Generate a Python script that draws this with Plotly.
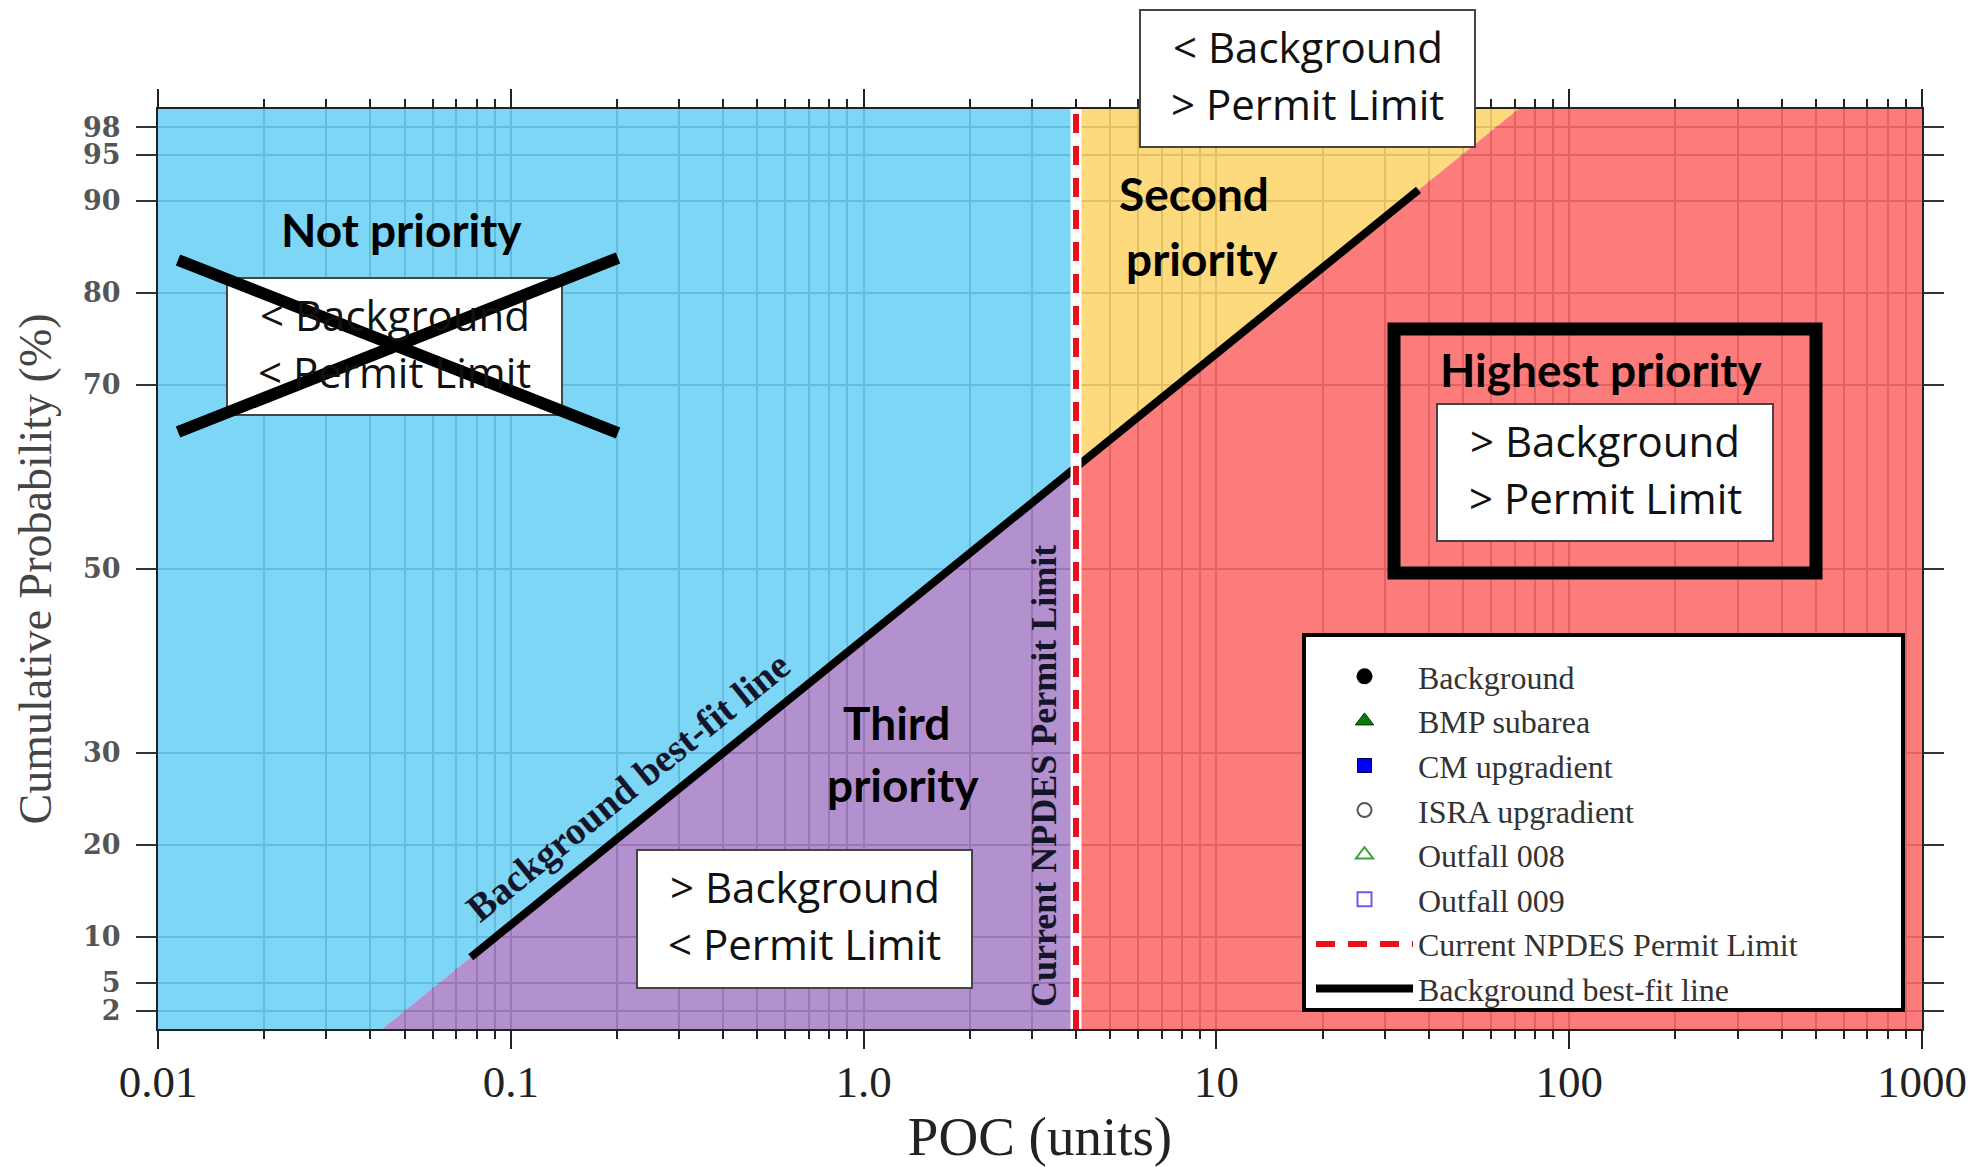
import math
import plotly.graph_objects as go

# ---------------- data ----------------
x_lo, x_hi = 0.01, 1000
y_lo, y_hi = 0, 100
x_tickvals = [0.01, 0.1, 1, 10, 100, 1000]
x_ticktext = ["0.01", "0.1", "1.0", "10", "100", "1000"]
y_tickvals = [2, 5, 10, 20, 30, 50, 70, 80, 90, 95, 98]
y_ticktext = ["2", "5", "10", "20", "30", "50", "70", "80", "90", "95", "98"]
x_minor = [k * 10 ** d for d in range(-2, 3) for k in range(2, 10)]
permit_limit = 4.0
fit_x = [0.077, 37.4]
fit_y = [7.8, 91.2]
point_series = ["Background", "BMP subarea", "CM upgradient",
                "ISRA upgradient", "Outfall 008", "Outfall 009"]

# ---------------- derived region boundaries ----------------
lx0, lx1 = math.log10(fit_x[0]), math.log10(fit_x[1])
slope = (fit_y[1] - fit_y[0]) / (lx1 - lx0)


def fit_at(x):
    return fit_y[0] + slope * (math.log10(x) - lx0)


def x_at(y):
    return 10 ** (lx0 + (y - fit_y[0]) / slope)


x_bottom = x_at(y_lo)
x_top = x_at(y_hi)
y_perm = fit_at(permit_limit)

regions = {
    "blue": ([x_lo, x_bottom, permit_limit, permit_limit, x_lo, x_lo],
             [y_lo, y_lo, y_perm, y_hi, y_hi, y_lo], "rgba(102,207,244,0.85)"),
    "purple": ([x_bottom, permit_limit, permit_limit, x_bottom],
               [y_lo, y_lo, y_perm, y_lo], "rgba(165,126,197,0.85)"),
    "yellow": ([permit_limit, permit_limit, x_top, permit_limit],
               [y_perm, y_hi, y_hi, y_perm], "rgba(252,211,102,0.85)"),
    "red": ([permit_limit, x_hi, x_hi, x_top, permit_limit, permit_limit],
            [y_lo, y_lo, y_hi, y_hi, y_perm, y_lo], "rgba(251,101,101,0.85)"),
}

# ---------------- layout geometry ----------------
W, H = 1982, 1167
L, R, T, B = 158, 60, 109, 138
PW, PH = W - L - R, H - T - B


def px(X):
    return (X - L) / PW


def py(Y):
    return (H - B - Y) / PH


fig = go.Figure()

for name, (xs, ys, col) in regions.items():
    fig.add_trace(go.Scatter(x=xs, y=ys, mode="lines", fill="toself",
                             fillcolor=col, line=dict(width=0),
                             hoverinfo="skip", showlegend=False))

marker_styles = [
    dict(symbol="circle", size=17, color="black"),
    dict(symbol="triangle-up", size=16, color="#0b7a0b", line=dict(color="#003300", width=1)),
    dict(symbol="square", size=14, color="#0000ff", line=dict(color="#000044", width=1)),
    dict(symbol="circle-open", size=14, color="#555555", line=dict(width=2)),
    dict(symbol="triangle-up-open", size=15, color="#3aa53a", line=dict(width=2)),
    dict(symbol="square-open", size=14, color="#6a5cf0", line=dict(width=2)),
]
for i, (name, ms) in enumerate(zip(point_series, marker_styles)):
    fig.add_trace(go.Scatter(x=[None], y=[None], mode="markers", name=name,
                             marker=ms, legendgroup=name, legendrank=i + 1))

fig.add_trace(go.Scatter(x=fit_x, y=fit_y, mode="lines",
                         name="Background best-fit line",
                         line=dict(color="black", width=8),
                         legendgroup="fit", legendrank=8))
fig.add_trace(go.Scatter(x=[permit_limit, permit_limit], y=[y_lo, y_hi],
                         mode="lines", line=dict(color="white", width=11),
                         showlegend=False, hoverinfo="skip"))
fig.add_trace(go.Scatter(x=[permit_limit, permit_limit], y=[y_lo, y_hi],
                         mode="lines", name="Current NPDES Permit Limit",
                         line=dict(color="#e8101c", width=6, dash="19px,13px"),
                         legendgroup="permit", legendrank=7))

shapes = []
annotations = []

BOX_FONT = dict(family="Open Sans", size=42, color="#111111")
HEAD_FONT = dict(family="Lato", size=46, color="black", weight="bold")


def text(t, X, Y, font, angle=0):
    annotations.append(dict(xref="paper", yref="paper", x=px(X), y=py(Y),
                            text=t, showarrow=False, font=font,
                            xanchor="center", yanchor="middle",
                            textangle=angle))


def box(x0, y0, x1, y1, line1, line2):
    shapes.append(dict(type="rect", xref="paper", yref="paper",
                       x0=px(x0), x1=px(x1), y0=py(y0), y1=py(y1),
                       fillcolor="white", line=dict(color="#444444", width=2),
                       layer="above"))
    cx = (x0 + x1) / 2
    text(line1, cx, y0 + 53 - 16.3, BOX_FONT)
    text(line2, cx, y0 + 110 - 16.3, BOX_FONT)


box(227, 278, 562, 415, "&lt; Background", "&lt; Permit Limit")
box(1140, 10, 1475, 147, "&lt; Background", "&gt; Permit Limit")
box(1437, 404, 1773, 541, "&gt; Background", "&gt; Permit Limit")
box(637, 850, 972, 988, "&gt; Background", "&lt; Permit Limit")

# cross over "not priority"
for (a, b, c, d) in [(178, 260, 618, 433), (178, 432, 618, 258)]:
    shapes.append(dict(type="line", xref="paper", yref="paper",
                       x0=px(a), y0=py(b), x1=px(c), y1=py(d),
                       line=dict(color="black", width=12), layer="above"))

# highest priority frame
shapes.append(dict(type="rect", xref="paper", yref="paper",
                   x0=px(1394), x1=px(1816), y0=py(329), y1=py(573),
                   line=dict(color="black", width=13), layer="above"))

# legend frame
shapes.append(dict(type="rect", xref="paper", yref="paper",
                   x0=px(1304), x1=px(1903), y0=py(635), y1=py(1010),
                   fillcolor="white", line=dict(color="black", width=4),
                   layer="above"))

text("Not priority", 401, 229, HEAD_FONT)
text("Second", 1194, 194, HEAD_FONT)
text("priority", 1202, 259, HEAD_FONT)
text("Third", 896, 722, HEAD_FONT)
text("priority", 903, 784, HEAD_FONT)
text("Highest priority", 1601, 369, HEAD_FONT)

text("Background best-fit line", 628, 787,
     dict(family="Liberation Serif", size=39, color="#15152a", weight="bold"), angle=-39)
text("Current NPDES Permit Limit", 1044, 776,
     dict(family="Liberation Serif", size=36, color="#15152a", weight="bold"), angle=-90)

GRID = "#505050"
fig.update_layout(
    width=W, height=H,
    margin=dict(l=L, r=R, t=T, b=B, pad=0),
    paper_bgcolor="white", plot_bgcolor="white",
    shapes=shapes, annotations=annotations,
    showlegend=True,
    legend=dict(x=px(1311), y=py(649), xanchor="left", yanchor="top",
                bgcolor="rgba(0,0,0,0)", borderwidth=0,
                font=dict(family="Liberation Serif", size=32, color="#333333"),
                itemwidth=97, tracegroupgap=0),
    xaxis=dict(type="log", range=[-2, 3], tickvals=x_tickvals, ticktext=x_ticktext,
               ticks="outside", ticklen=18, tickwidth=2, tickcolor="#222",
               showline=True, linecolor="#222", linewidth=2, mirror="ticks",
               showgrid=True, gridcolor=GRID, gridwidth=2, zeroline=False,
               minor=dict(tickvals=x_minor, ticks="outside", ticklen=8, tickwidth=1.5,
                          tickcolor="#222", showgrid=True, gridcolor=GRID,
                          gridwidth=1.5),
               tickfont=dict(family="Liberation Serif", size=45, color="#222222"),
               ticklabelstandoff=-6, automargin=False,
               title=dict(text="POC (units)", standoff=20,
                          font=dict(family="Liberation Serif", size=55, color="#222222"))),
    yaxis=dict(range=[y_lo, y_hi], tickvals=y_tickvals, ticktext=y_ticktext,
               ticks="outside", ticklen=20, tickwidth=2, tickcolor="#333",
               showline=True, linecolor="#222", linewidth=2, mirror="ticks",
               showgrid=True, gridcolor=GRID, gridwidth=2, zeroline=False,
               tickfont=dict(family="DejaVu Serif", size=27, color="#555555", weight="bold"),
               ticklabelstandoff=10, automargin=False,
               title=dict(text="Cumulative Probability (%)", standoff=17,
                          font=dict(family="Liberation Serif", size=46, color="#444444"))),
)

fig.write_html("out.html", config={"displayModeBar": False},
               post_script="document.body.style.margin='0';document.body.style.overflow='hidden';")
